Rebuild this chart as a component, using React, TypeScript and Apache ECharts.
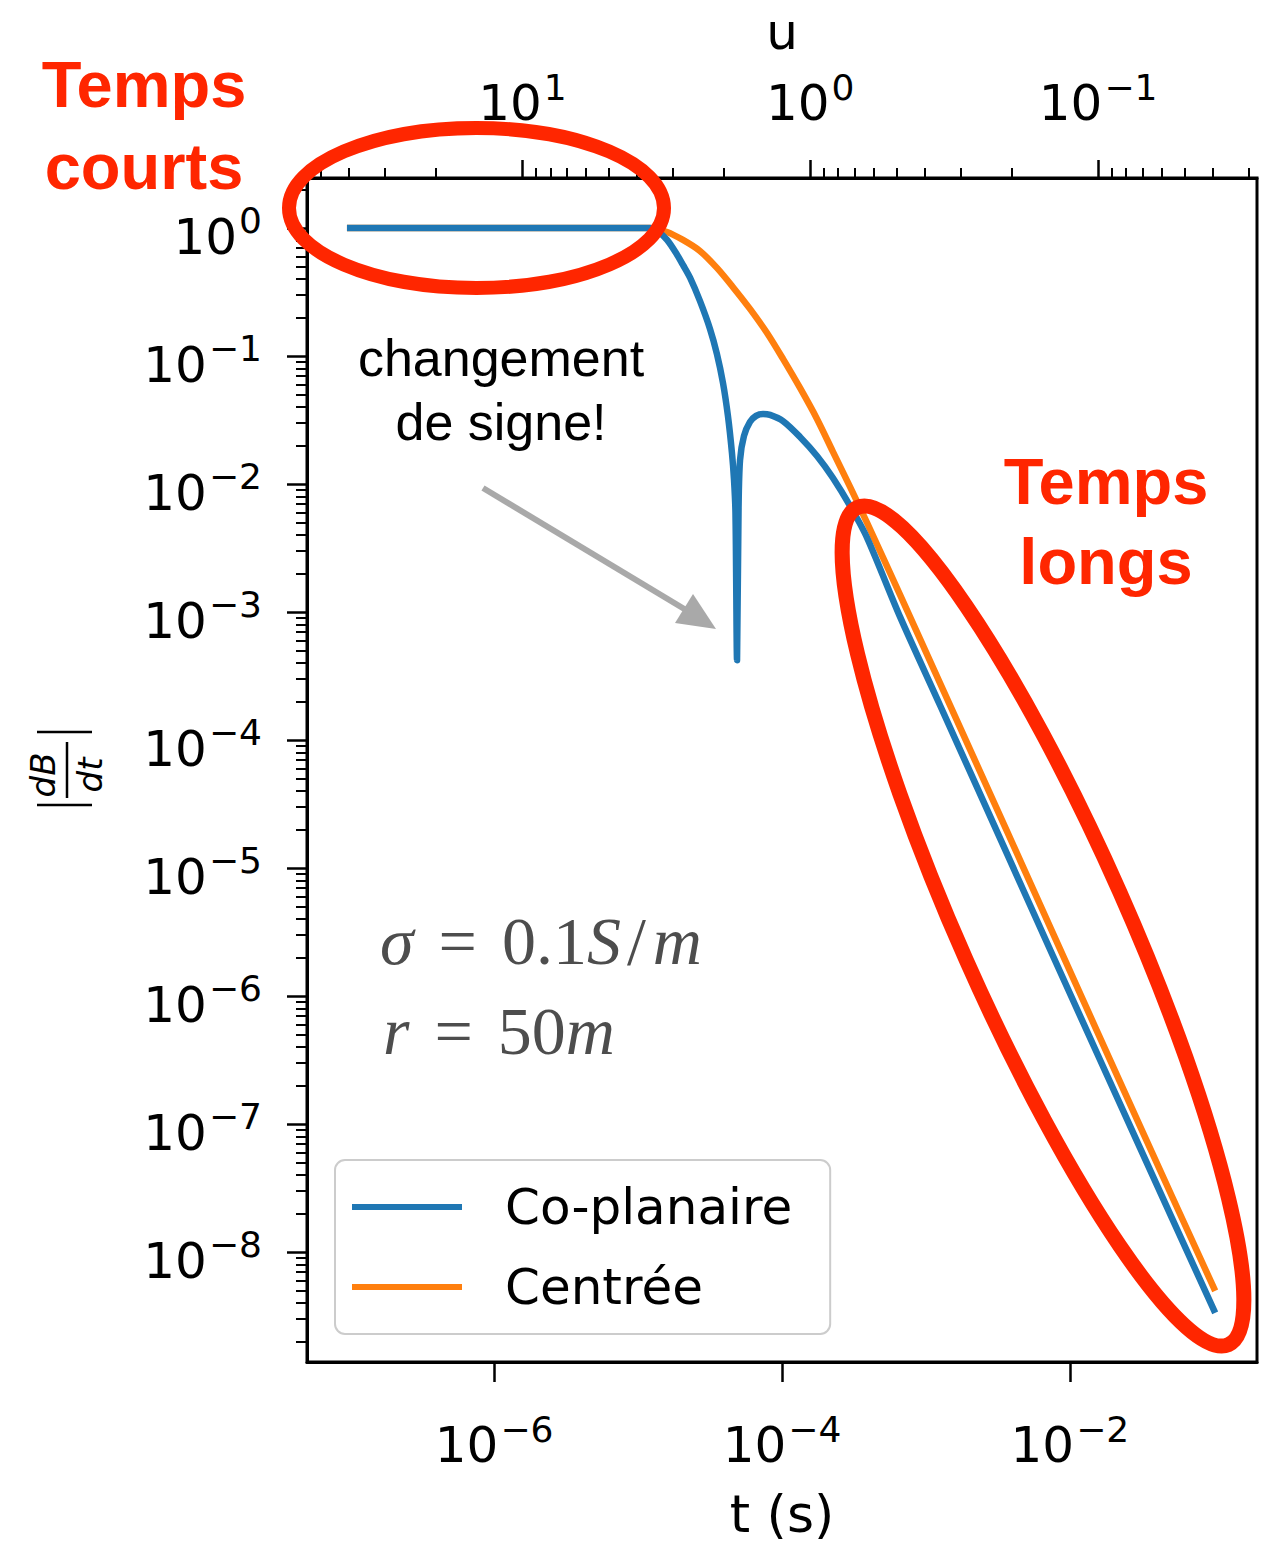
import React, { useEffect, useRef } from 'react';
import * as echarts from 'echarts';

// ---- data ----
const tCoplanaire = [1.0e-7, 1.0e-6, 5.4e-6, 1.21e-5, 1.355e-5, 1.59e-5, 1.87e-5, 2.05e-5, 2.3e-5, 2.69e-5, 3.16e-5, 3.53e-5, 3.89e-5, 4.21e-5, 4.49e-5, 4.64e-5, 4.75e-5, 4.87e-5, 4.99e-5, 5.11e-5, 5.44e-5, 5.99e-5, 6.6e-5, 7.38e-5, 8.26e-5, 1.016e-4, 1.334e-4, 1.75e-4, 2.26e-4, 2.97e-4, 3.9e-4, 6.61e-4, 1.25e-3, 3.66e-3, 7.63e-3, 3.07e-2, 0.1];
const vCoplanaire = [1, 1, 1, 1, 0.947, 0.806, 0.615, 0.514, 0.407, 0.269, 0.1625, 0.1037, 0.0615, 0.034, 0.01746, 0.01075, 0.00593, 0.00042, 0.0065, 0.0154, 0.0237, 0.0305, 0.034, 0.0352, 0.0346, 0.031, 0.0233, 0.01655, 0.01114, 0.00673, 0.00379, 9.14e-4, 1.875e-4, 1.286e-5, 2.05e-6, 6.49e-8, 3.52e-9];

const tCentree = [1.0e-7, 1.0e-6, 5.4e-6, 1.21e-5, 1.59e-5, 2.05e-5, 2.69e-5, 3.53e-5, 4.55e-5, 5.99e-5, 7.87e-5, 1.016e-4, 1.334e-4, 1.75e-4, 2.26e-4, 2.97e-4, 3.9e-4, 6.61e-4, 1.25e-3, 3.66e-3, 7.63e-3, 3.07e-2, 0.1];
const vCentree = [1, 1, 1, 1, 0.93, 0.806, 0.661, 0.487, 0.346, 0.233, 0.151, 0.0948, 0.0562, 0.0322, 0.0178, 0.00948, 0.00496, 1.36e-3, 2.79e-4, 1.93e-5, 3.08e-6, 9.6e-8, 5.23e-9];

const seriesNames = ['Co-planaire', 'Centrée'];
const seriesColors = ['#1f77b4', '#ff7f0e'];

const tTicks = [1e-6, 1e-4, 1e-2];
const yTicks = [1, 1e-1, 1e-2, 1e-3, 1e-4, 1e-5, 1e-6, 1e-7, 1e-8];
const uTicks = [10, 1, 0.1];

const T_MIN = 5.01e-8;
const T_MAX = 0.1995;
const Y_MIN = 1.38e-9;
const Y_MAX = 2.455;
const U_MIN = 0.02806;
const U_MAX = 56.0;

const RED = '#ff2600';
const FONT = 'DejaVu Sans';

function minorTicks(lo: number, hi: number): number[] {
  const out: number[] = [];
  for (let k = -10; k <= 3; k++) {
    for (let m = 2; m <= 9; m++) {
      const v = m * Math.pow(10, k);
      if (v > lo && v < hi) out.push(v);
    }
  }
  return out;
}

const fmtPow = (v: number) => {
  const e = Math.round(Math.log10(v));
  const es = e < 0 ? '\u2212' + String(-e) : String(e);
  return `{b|10}{s|${es}}`;
};

const labelRich = {
  b: { fontFamily: FONT, fontSize: 50, lineHeight: 64, height: 46, verticalAlign: 'bottom', color: '#000' },
  s: { fontFamily: FONT, fontSize: 36, lineHeight: 64, height: 50, verticalAlign: 'top', padding: [0, 0, 0, 2], color: '#000' },
};

const mathRich = {
  i: { fontStyle: 'italic', fontFamily: 'Liberation Serif', fontSize: 68, fill: '#4d4d4d' },
  u: { fontFamily: 'Liberation Serif', fontSize: 68, fill: '#4d4d4d' },
  e: { fontFamily: 'Liberation Serif', fontSize: 68, fill: '#4d4d4d', padding: [0, 25, 0, 25] },
  sl: { fontFamily: 'Liberation Serif', fontSize: 68, fill: '#4d4d4d', padding: [0, 7, 0, 6] },
};

export default function App() {
  const ref = useRef<HTMLDivElement>(null);
  useEffect(() => {
    if (!ref.current) return;
    const chart = echarts.init(ref.current, null, { renderer: 'svg' });
    const axisLine = { show: true, onZero: false, lineStyle: { color: '#000', width: 3 } };
    const option: any = {
      animation: false,
      backgroundColor: '#fff',
      textStyle: { fontFamily: FONT },
      grid: {
        left: 307, top: 178, width: 950, height: 1184, containLabel: false, outerBoundsMode: 'none',
        show: true, borderColor: '#000', borderWidth: 3, backgroundColor: 'transparent',
      },
      xAxis: [
        {
          type: 'log', position: 'bottom', min: T_MIN, max: T_MAX,
          name: 't (s)', nameLocation: 'middle', nameGap: 130,
          nameTextStyle: { fontFamily: FONT, fontSize: 52, lineHeight: 44, color: '#000' },
          axisLine,
          axisTick: { show: true, length: 20, lineStyle: { color: '#000', width: 2.5 }, customValues: tTicks },
          axisLabel: { show: true, margin: 42, customValues: tTicks, formatter: fmtPow, rich: labelRich },
          splitLine: { show: false }, minorTick: { show: false },
        },
        {
          type: 'log', position: 'top', inverse: true, min: U_MIN, max: U_MAX,
          name: 'u', nameLocation: 'middle', nameGap: 124.5,
          nameTextStyle: { fontFamily: FONT, fontSize: 50, lineHeight: 44, color: '#000' },
          axisLine,
          axisTick: { show: true, length: 18, lineStyle: { color: '#000', width: 2.5 }, customValues: uTicks },
          axisLabel: { show: true, margin: 52, customValues: uTicks, formatter: fmtPow, rich: labelRich },
          splitLine: { show: false },
        },
        {
          type: 'log', position: 'top', inverse: true, min: U_MIN, max: U_MAX,
          axisLine: { show: false },
          axisTick: { show: true, length: 10, lineStyle: { color: '#000', width: 2 }, customValues: minorTicks(U_MIN, U_MAX) },
          axisLabel: { show: false },
          splitLine: { show: false },
        },
      ],
      yAxis: [
        {
          type: 'log', position: 'left', min: Y_MIN, max: Y_MAX,
          axisLine,
          axisTick: { show: true, length: 20, lineStyle: { color: '#000', width: 2.5 }, customValues: yTicks },
          axisLabel: { show: true, margin: 45, customValues: yTicks, formatter: fmtPow, rich: labelRich },
          splitLine: { show: false },
        },
        {
          type: 'log', position: 'left', offset: 0, min: Y_MIN, max: Y_MAX,
          axisLine: { show: false },
          axisTick: { show: true, length: 11, lineStyle: { color: '#000', width: 2 }, customValues: minorTicks(Y_MIN, Y_MAX) },
          axisLabel: { show: false },
          splitLine: { show: false },
        },
      ],
      legend: {
        orient: 'vertical', left: 335, top: 1160,
        data: seriesNames,
        icon: 'rect', itemWidth: 110, itemHeight: 6, itemGap: 20,
        padding: [17, 38, 17, 17],
        backgroundColor: 'rgba(255,255,255,0.85)',
        borderColor: '#cccccc', borderWidth: 2, borderRadius: 10,
        selectedMode: false,
        textStyle: { fontFamily: FONT, fontSize: 50, lineHeight: 60, color: '#000', padding: [0, 0, 0, 38] },
      },
      series: [
        {
          name: seriesNames[0], type: 'line', xAxisIndex: 0, yAxisIndex: 0,
          data: tCoplanaire.map((t, i) => [t, vCoplanaire[i]]),
          showSymbol: false, smooth: 0.3, color: seriesColors[0],
          lineStyle: { width: 6.5, color: seriesColors[0], cap: 'square', join: 'round' },
          z: 3,
        },
        {
          name: seriesNames[1], type: 'line', xAxisIndex: 0, yAxisIndex: 0,
          data: tCentree.map((t, i) => [t, vCentree[i]]),
          showSymbol: false, smooth: 0.3, color: seriesColors[1],
          lineStyle: { width: 6.5, color: seriesColors[1], cap: 'square', join: 'round' },
          z: 2,
        },
      ],
      graphic: {
        elements: [
          // y-axis label |dB/dt|
          {
            type: 'group', x: 65, y: 768, rotation: Math.PI / 2,
            children: [
              { type: 'line', shape: { x1: 36, y1: -28, x2: 36, y2: 27 }, style: { stroke: '#000', lineWidth: 2.5 } },
              { type: 'line', shape: { x1: -37, y1: -28, x2: -37, y2: 27 }, style: { stroke: '#000', lineWidth: 2.5 } },
              { type: 'line', shape: { x1: -30, y1: 2, x2: 26, y2: 2 }, style: { stroke: '#000', lineWidth: 2.5 } },
              { type: 'text', x: -7, y: -22, style: { text: 'dB', textAlign: 'center', textVerticalAlign: 'middle', font: 'italic 34px "DejaVu Sans"', fill: '#000' } },
              { type: 'text', x: -7, y: 25, style: { text: 'dt', textAlign: 'center', textVerticalAlign: 'middle', font: 'italic 34px "DejaVu Sans"', fill: '#000' } },
            ],
          },
          // annotation text
          { type: 'text', x: 501, y: 358, z: 50, style: { text: 'changement', textAlign: 'center', textVerticalAlign: 'middle', font: '52px "Liberation Sans"', fill: '#000' } },
          { type: 'text', x: 501, y: 422, z: 50, style: { text: 'de signe!', textAlign: 'center', textVerticalAlign: 'middle', font: '52px "Liberation Sans"', fill: '#000' } },
          // arrow
          { type: 'line', z: 50, shape: { x1: 483, y1: 488, x2: 686, y2: 610 }, style: { stroke: '#a9a9a9', lineWidth: 6 } },
          { type: 'polygon', z: 50, shape: { points: [[716, 629], [675, 623], [693, 594]] }, style: { fill: '#a9a9a9' } },
          // sigma / r
          {
            type: 'text', x: 380, y: 941, z: 50,
            style: {
              text: '{i|σ}{e|=}{u|0.1}{i|S}{sl|/}{i|m}', textAlign: 'left', textVerticalAlign: 'middle',
              font: '68px "Liberation Serif"', fill: '#4d4d4d', rich: mathRich,
            },
          },
          {
            type: 'text', x: 383, y: 1031, z: 50,
            style: {
              text: '{i|r}{e|=}{u|50}{i|m}', textAlign: 'left', textVerticalAlign: 'middle',
              font: '68px "Liberation Serif"', fill: '#4d4d4d', rich: mathRich,
            },
          },
          // red annotations
          { type: 'text', x: 144, y: 84, z: 100, style: { text: 'Temps', textAlign: 'center', textVerticalAlign: 'middle', font: 'bold 65px "Liberation Sans"', fill: RED } },
          { type: 'text', x: 144, y: 166, z: 100, style: { text: 'courts', textAlign: 'center', textVerticalAlign: 'middle', font: 'bold 65px "Liberation Sans"', fill: RED } },
          { type: 'text', x: 1106, y: 481, z: 100, style: { text: 'Temps', textAlign: 'center', textVerticalAlign: 'middle', font: 'bold 65px "Liberation Sans"', fill: RED } },
          { type: 'text', x: 1106, y: 561, z: 100, style: { text: 'longs', textAlign: 'center', textVerticalAlign: 'middle', font: 'bold 65px "Liberation Sans"', fill: RED } },
          { type: 'ellipse', x: 476.5, y: 208, z: 100, shape: { cx: 0, cy: 0, rx: 187.5, ry: 80 }, style: { fill: 'none', stroke: RED, lineWidth: 14 } },
          { type: 'ellipse', x: 1043, y: 926, z: 100, rotation: -1.154, shape: { cx: 0, cy: 0, rx: 458, ry: 84 }, style: { fill: 'none', stroke: RED, lineWidth: 15 } },
        ],
      },
    };
    chart.setOption(option);
    return () => chart.dispose();
  }, []);
  return <div ref={ref} style={{ position: 'absolute', left: 0, top: 0, width: 1272, height: 1543 }} />;
}
